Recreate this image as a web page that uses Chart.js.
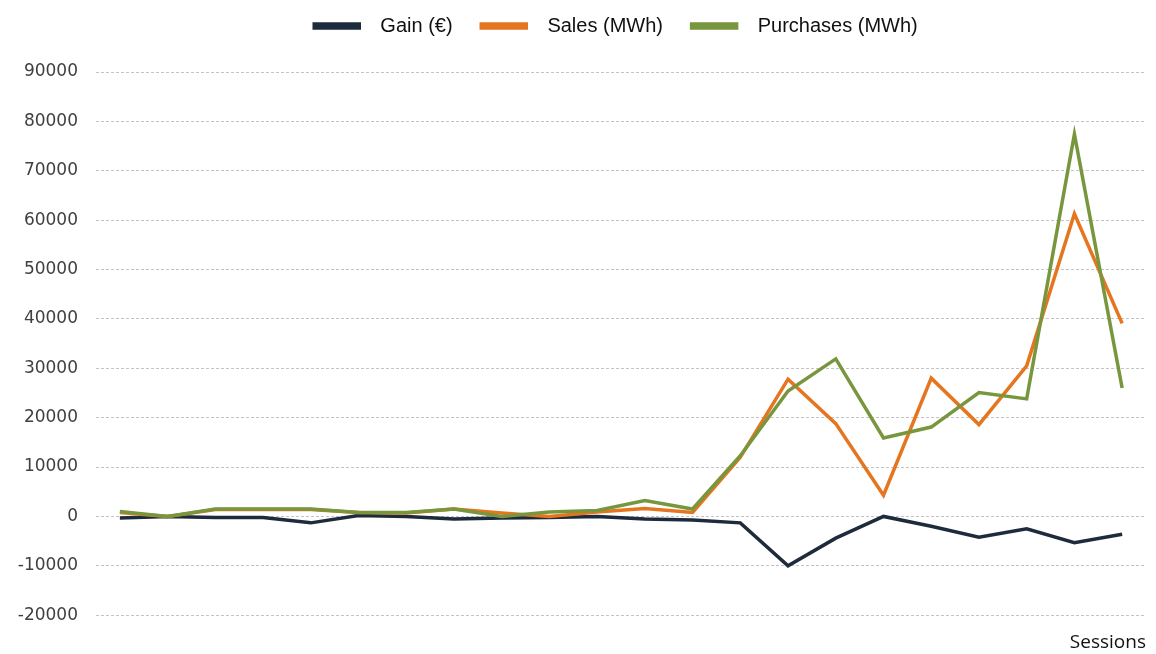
<!DOCTYPE html>
<html>
<head>
<meta charset="utf-8">
<script src="https://cdn.jsdelivr.net/npm/chart.js@4/dist/chart.umd.min.js"></script>
<style>
    html, body { margin: 0; padding: 0; background: #ffffff; }
    #wrap { width: 1156px; height: 654px; }
</style>
</head>
<body>
<div id="wrap"><canvas id="chart" width="1156" height="654"></canvas></div>
<script>
// ── DONNÉES ──
const sessions  = ["1", "2", "3", "4", "5", "6", "7", "8", "9", "10", "11",
                   "12", "13", "14", "15", "16", "17", "18", "19", "20", "21", "22"];
const gain      = [-300, 0, -200, -200, -1300, 200, 0, -500, -300, -200, 0,
                   -500, -700, -1300, -10000, -4400, 0, -2000, -4200, -2500, -5300, -3600];
const sales     = [800, 0, 1400, 1400, 1400, 800, 700, 1500, 700, 0, 900,
                   1600, 800, 12000, 27800, 18800, 4300, 28000, 18600, 30500, 61300, 39100];
const purchases = [1000, 0, 1500, 1500, 1500, 800, 800, 1500, 0, 900, 1200,
                   3200, 1500, 12300, 25400, 31900, 15900, 18100, 25100, 23800, 77400, 26000];
const yMin = -20000, yMax = 90000, yStep = 10000;

// ── COULEURS ──
const NAVY   = "#1d2b3c";
const ORANGE = "#e5761f";
const GREEN  = "#78963d";

// legend: extra room below it, and centred above the plot area
const legendTweak = {
    id: "legendTweak",
    beforeInit(chart) {
        const fit = chart.legend.fit;
        chart.legend.fit = function () {
            fit.call(this);
            this.height += 26;
        };
    },
    afterLayout(chart) {
        const dx = (chart.chartArea.left + chart.chartArea.right) / 2 - chart.width / 2;
        chart.legend.left  += dx;
        chart.legend.right += dx;
    }
};

function line(label, data, color, order) {
    return {
        label: label,
        data: data,
        borderColor: color,
        backgroundColor: color,
        borderWidth: 3.5,
        pointRadius: 0,
        tension: 0,
        order: order
    };
}

new Chart(document.getElementById("chart"), {
    type: "line",
    data: {
        labels: sessions,
        datasets: [
            line("  Gain (€)   ", gain, NAVY, 2),
            line("  Sales (MWh)   ", sales, ORANGE, 1),
            line("  Purchases (MWh)", purchases, GREEN, 0)
        ]
    },
    plugins: [legendTweak],
    options: {
        responsive: false,
        animation: false,
        layout: { padding: { top: 4, right: 10, bottom: 0, left: 0 } },
        scales: {
            x: {
                offset: true,
                grid:   { display: false, drawTicks: false },
                border: { display: false },
                ticks:  { display: false },
                title: {
                    display: true,
                    text: "Sessions",
                    align: "end",
                    color: "#111111",
                    font: { family: "Open Sans", size: 19 },
                    padding: { top: 16, bottom: 0 }
                }
            },
            y: {
                min: yMin, max: yMax,
                afterFit: scale => { scale.width = 96; },
                ticks: {
                    stepSize: yStep,
                    padding: 18,
                    color: "#404040",
                    font: { family: "DejaVu Sans", size: 17 },
                    callback: val => String(val)
                },
                grid:   { color: "#c4c4c4", lineWidth: 1, drawTicks: false },
                border: { display: false, dash: [3, 2] }
            }
        },
        plugins: {
            legend: {
                position: "top",
                labels: {
                    boxWidth: 45,
                    boxHeight: 4,
                    padding: 12,
                    color: "#111111",
                    font: { family: "Liberation Sans", size: 20 },
                    sort: (a, b) => a.datasetIndex - b.datasetIndex
                }
            },
            tooltip: { enabled: false }
        }
    }
});
</script>
</body>
</html>
